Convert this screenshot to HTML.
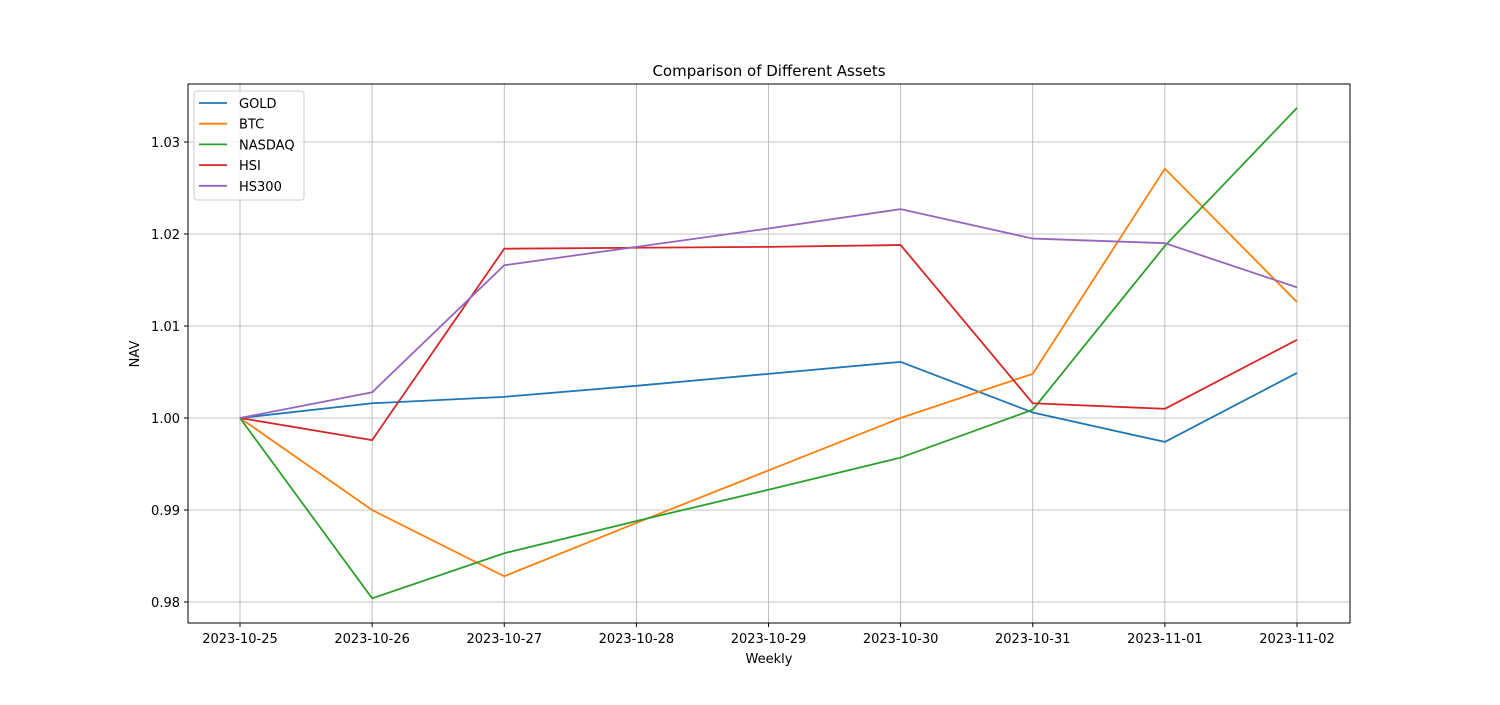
<!DOCTYPE html>
<html><head><meta charset="utf-8"><style>
body{margin:0;background:#fff;}
svg text{font-family:"DejaVu Sans","Liberation Sans",sans-serif;fill:#000;}
</style></head><body>
<svg id="chart" width="1500" height="700" xmlns="http://www.w3.org/2000/svg">
<rect width="1500" height="700" fill="#fff"/>
<g id="grid"></g>
<g id="lines"></g>
<rect x="188" y="84" width="1162" height="539" fill="none" stroke="#000" stroke-width="1"/>
<g id="ticks"></g>
<text x="769" y="76" text-anchor="middle" font-size="15">Comparison of Different Assets</text>
<text x="769" y="663" text-anchor="middle" font-size="13">Weekly</text>
<text x="139" y="354" text-anchor="middle" font-size="13" transform="rotate(-90 139 354)">NAV</text>
<g id="legend"></g>
</svg>
<script>
const categories=["2023-10-25","2023-10-26","2023-10-27","2023-10-28","2023-10-29","2023-10-30","2023-10-31","2023-11-01","2023-11-02"];
const seriesNames=["GOLD","BTC","NASDAQ","HSI","HS300"];
const seriesColors=["#1f77b4","#ff7f0e","#2ca02c","#d62728","#9467bd"];
const gold=[1.0,1.0016,1.0023,1.0035,1.0048,1.0061,1.0006,0.9974,1.0049];
const btc=[1.0,0.9900,0.9828,0.9886,0.9943,1.0000,1.0048,1.0271,1.0126];
const nasdaq=[1.0,0.9804,0.9853,0.9888,0.9922,0.9957,1.0009,1.0187,1.0337];
const hsi=[1.0,0.9976,1.0184,1.0185,1.0186,1.0188,1.0016,1.0010,1.0085];
const hs300=[1.0,1.0028,1.0166,1.0186,1.0206,1.0227,1.0195,1.0190,1.0142];
const yTicks=[0.98,0.99,1.00,1.01,1.02,1.03];
const yTickLabels=["0.98","0.99","1.00","1.01","1.02","1.03"];
const NS="http://www.w3.org/2000/svg";
const x0=240,x1=1297,yMin=0.97772,yMax=1.0363,yTop=84,yBot=623;
function xs(i){return x0+(x1-x0)*i/(categories.length-1);}
function ys(v){return yBot-(v-yMin)/(yMax-yMin)*(yBot-yTop);}
function mk(t,a,p){const e=document.createElementNS(NS,t);for(const k in a)e.setAttribute(k,a[k]);p.appendChild(e);return e;}
const grid=document.getElementById('grid'),ticks=document.getElementById('ticks');
categories.forEach((c,i)=>{const x=xs(i);
const g=mk('line',{x1:x,x2:x,y1:yTop,y2:yBot,stroke:'#b0b0b0','stroke-width':0.8},grid);


mk('line',{x1:x,x2:x,y1:yBot,y2:yBot+4,stroke:'#000'},ticks);
const t=mk('text',{x:x,y:yBot+20,'text-anchor':'middle','font-size':13},ticks);t.textContent=c;

});
yTicks.forEach((v,i)=>{const y=ys(v);
const g=mk('line',{x1:188,x2:1350,y1:y,y2:y,stroke:'#b0b0b0','stroke-width':0.8},grid);


mk('line',{x1:184,x2:188,y1:y,y2:y,stroke:'#000'},ticks);
const t=mk('text',{x:180,y:y+5,'text-anchor':'end','font-size':13},ticks);t.textContent=yTickLabels[i];

});
const all=[gold,btc,nasdaq,hsi,hs300];const lines=document.getElementById('lines');
all.forEach((d,s)=>{const pts=d.map((v,i)=>xs(i)+','+ys(v)).join(' ');
const p=mk('polyline',{points:pts,fill:'none',stroke:seriesColors[s],'stroke-width':1.8},lines);

});
const lg=document.getElementById('legend');
const box=mk('rect',{x:194,y:91,width:110,height:109,rx:3,fill:'#fff','fill-opacity':0.8,stroke:'#ccc'},lg);


seriesNames.forEach((n,i)=>{const y=103+i*20.7;
const g=mk('g',{},lg);


mk('line',{x1:199,x2:227,y1:y,y2:y,stroke:seriesColors[i],'stroke-width':1.8},g);
const t=mk('text',{x:239,y:y+5,'font-size':13},g);t.textContent=n;});
</script>
</body></html>
